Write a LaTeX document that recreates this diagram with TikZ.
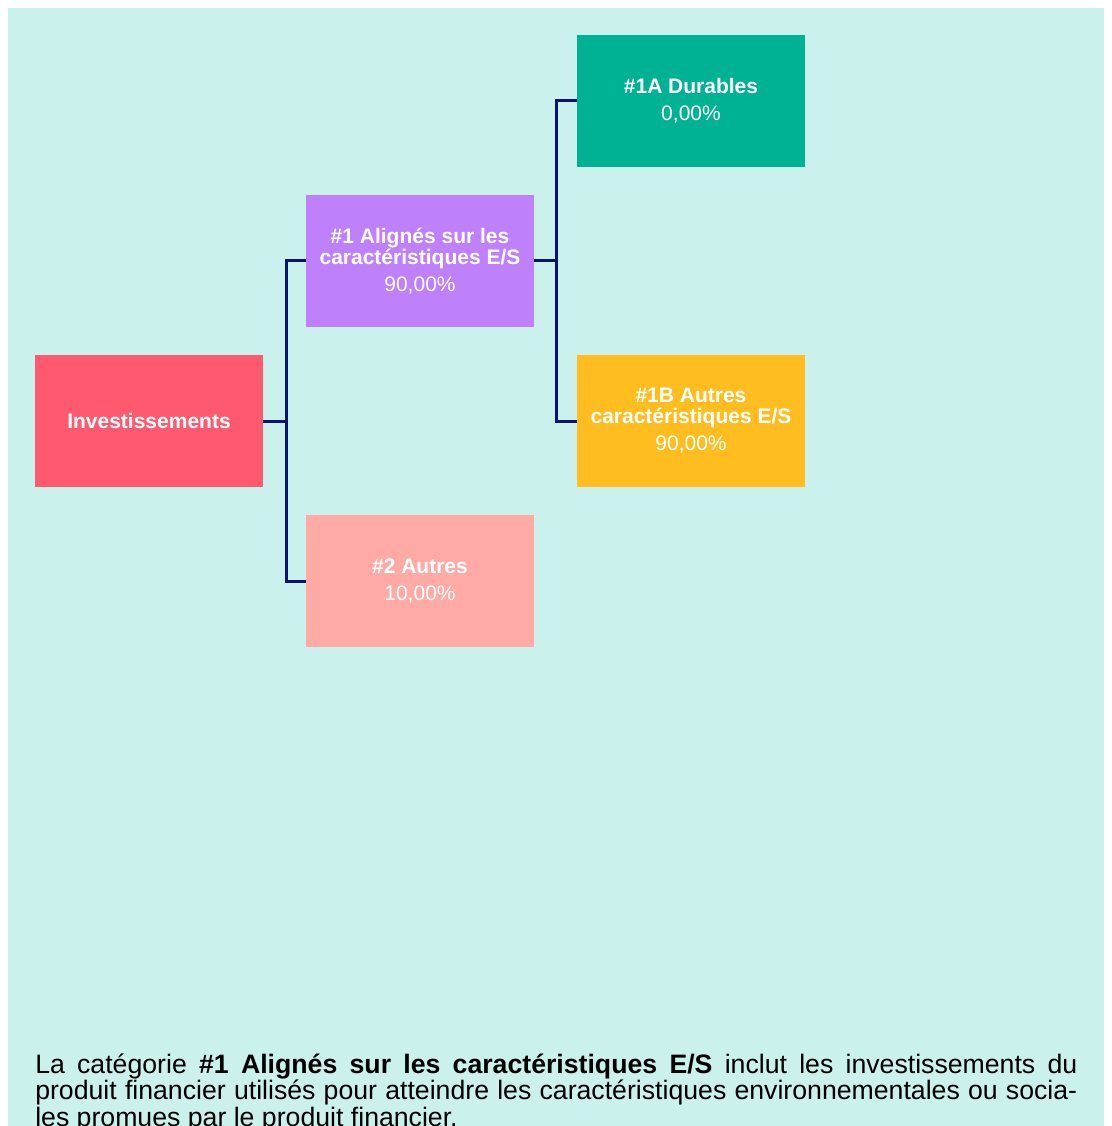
\documentclass[tikz,border=0pt]{standalone}
\usepackage{fontspec}
\setmainfont{Liberation Sans}
\definecolor{mint}{RGB}{202,241,236}
\definecolor{raspberry}{RGB}{255,89,111}
\definecolor{lavender}{RGB}{191,128,252}
\definecolor{salmon}{RGB}{255,170,165}
\definecolor{emerald}{RGB}{0,178,148}
\definecolor{amber}{RGB}{255,189,31}
\definecolor{navy}{RGB}{10,20,110}
\usepackage{tikz}
\usetikzlibrary{positioning}

\begin{document}
\begin{tikzpicture}[%
            box/.style={%
              minimum width=171pt,
              minimum height=99.5pt,
              inner sep=0pt,
              outer sep=0pt,
              text=white,
              align=center,
              font=\fontsize{15.75}{15.75}\selectfont,
            },
            link/.style={navy,line width=2.25pt},
            node distance=20.5pt and 32.25pt,
          ]
            \useasboundingbox (0,0) rectangle (833.25pt,-844.5pt);
            \fill [mint] (6pt,-6pt) rectangle (828pt,-860pt);

            \node [box,fill=raspberry] (invest) at (111.75pt,-315.75pt)
              {\textbf{Investissements}};
            \node [box,fill=lavender,above right=of invest] (aligned)
              {\textbf{\#1 Alignés sur les}\\\textbf{caractéristiques E/S}\\[4.5pt]90,00\%};
            \node [box,fill=salmon,below right=of invest] (other)
              {\textbf{\#2 Autres}\\[4.5pt]10,00\%};
            \node [box,fill=emerald,above right=of aligned] (durable)
              {\textbf{\#1A Durables}\\[4.5pt]0,00\%};
            \node [box,fill=amber,below right=of aligned] (features)
              {\textbf{\#1B Autres}\\\textbf{caractéristiques E/S}\\[4.5pt]90,00\%};

            \draw [link] (invest.east) -- ++(17.5pt,0) coordinate (fork invest) |- (aligned.west);
            \draw [link] (fork invest) |- (other.west);
            \draw [link] (aligned.east) -- ++(17pt,0) coordinate (fork aligned) |- (durable.west);
            \draw [link] (fork aligned) |- (features.west);

            \node [%
              anchor=base west,
              text width=781.5pt,
              align=justify,
              inner sep=0pt,
              font=\fontsize{20}{19.9}\selectfont,
            ] (note) at (26.25pt,-804.75pt)
              {La catégorie \textbf{\#1 Alignés sur les caractéristiques E/S} inclut les investissements du\linebreak
               produit financier utilisés pour atteindre les caractéristiques environnementales ou socia-\linebreak
               les promues par le produit financier.};
          \end{tikzpicture}
\end{document}
